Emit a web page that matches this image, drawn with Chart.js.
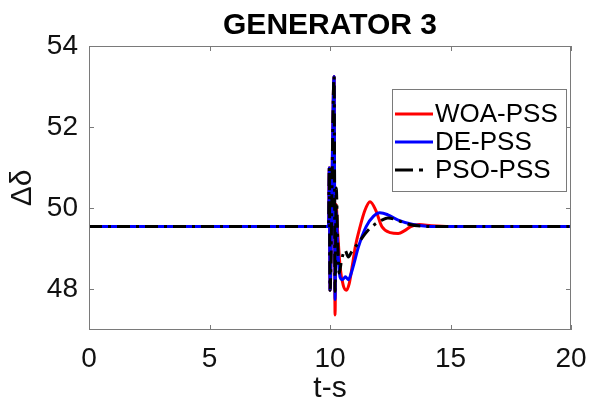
<!DOCTYPE html>
<html>
<head>
<meta charset="utf-8">
<script src="https://cdn.jsdelivr.net/npm/chart.js@4/dist/chart.umd.min.js"></script>
<style>
  html, body { margin: 0; padding: 0; background: #fff; }
  #wrap { width: 589px; height: 402px; }
</style>
</head>
<body>
<div id="wrap"><canvas id="gen3"></canvas></div>
<script>
const xTicks = [0, 5, 10, 15, 20];
const yTicks = [48, 50, 52, 54];

// rotor angle deviation after the fault at t = 10 s
const woaTime  = [0, 9.94, 9.97, 10.0, 10.17, 10.21, 10.25, 10.32, 10.42, 10.55, 10.68, 10.8, 10.93, 11.05, 11.25, 11.45, 11.66, 11.9, 12.15, 12.5, 12.83, 13.1, 13.35, 13.7, 14.2, 15, 20];
const woaDelta = [49.55, 49.55, 51.0, 47.98, 53.25, 47.37, 50.1, 49.4, 48.55, 48.1, 47.98, 48.15, 48.6, 49.05, 49.55, 49.95, 50.16, 49.95, 49.55, 49.4, 49.38, 49.45, 49.55, 49.6, 49.57, 49.55, 49.55];

const deTime  = [0, 9.94, 9.97, 10.0, 10.17, 10.21, 10.25, 10.32, 10.42, 10.52, 10.64, 10.76, 10.88, 11.0, 11.18, 11.5, 11.8, 12.07, 12.4, 12.83, 13.45, 14.0, 15, 20];
const deDelta = [49.55, 49.55, 51.0, 47.98, 53.25, 47.75, 49.95, 49.0, 48.3, 48.24, 48.31, 48.24, 48.4, 48.65, 49.05, 49.55, 49.8, 49.89, 49.84, 49.71, 49.6, 49.56, 49.55, 49.55];

const psoTime  = [0, 9.94, 9.97, 10.0, 10.17, 10.21, 10.26, 10.32, 10.38, 10.48, 10.62, 10.76, 10.9, 11.05, 11.24, 11.58, 11.85, 12.15, 12.4, 12.63, 13.0, 13.3, 13.8, 14.5, 20];
const psoDelta = [49.55, 49.55, 51.0, 47.98, 53.25, 47.95, 50.5, 49.2, 48.4, 48.72, 48.97, 48.8, 48.93, 49.05, 49.2, 49.46, 49.6, 49.71, 49.76, 49.74, 49.66, 49.6, 49.56, 49.55, 49.55];

const toPoints = (ts, vs) => ts.map((t, i) => ({ x: t, y: vs[i] }));

const FONT = '"Liberation Sans", Arial, sans-serif';
const AXIS_GREY = '#7a7a7a';

// box around the plot with inward tick marks on every side
const frameTicks = {
  id: 'frameTicks',
  afterDatasetsDraw(chart) {
    const { ctx, chartArea: a, scales: { x, y } } = chart;
    const len = 5;
    ctx.save();
    ctx.strokeStyle = AXIS_GREY;
    ctx.lineWidth = 1;
    ctx.strokeRect(Math.round(a.left) + 0.5, Math.round(a.top) + 0.5,
                   Math.round(a.right - a.left) - 1, Math.round(a.bottom - a.top) - 1);
    ctx.beginPath();
    xTicks.forEach(v => {
      const px = Math.round(x.getPixelForValue(v)) + 0.5;
      ctx.moveTo(px, a.bottom); ctx.lineTo(px, a.bottom - len);
      ctx.moveTo(px, a.top); ctx.lineTo(px, a.top + len);
    });
    yTicks.forEach(v => {
      const py = Math.round(y.getPixelForValue(v)) + 0.5;
      ctx.moveTo(a.left, py); ctx.lineTo(a.left + len, py);
      ctx.moveTo(a.right, py); ctx.lineTo(a.right - len, py);
    });
    ctx.stroke();
    ctx.restore();
  }
};

// legend box in the upper right of the plot
const boxLegend = {
  id: 'boxLegend',
  afterDraw(chart) {
    const { ctx } = chart;
    const left = 392, top = 89, w = 174, h = 102;
    ctx.save();
    ctx.fillStyle = '#fff';
    ctx.fillRect(left, top, w, h);
    ctx.strokeStyle = AXIS_GREY;
    ctx.lineWidth = 1;
    ctx.strokeRect(left + 0.5, top + 0.5, w, h);
    ctx.font = '26px ' + FONT;
    ctx.textBaseline = 'middle';
    ctx.fillStyle = '#000';
    chart.data.datasets.forEach((ds, i) => {
      const ry = top + 25 + i * 28;
      ctx.strokeStyle = ds.borderColor;
      ctx.lineWidth = ds.borderWidth;
      ctx.setLineDash(ds.borderDash ? [18, 6, 4, 20] : []);
      ctx.beginPath();
      ctx.moveTo(left + 3, ry);
      ctx.lineTo(left + 41, ry);
      ctx.stroke();
      ctx.setLineDash([]);
      ctx.fillText(ds.label, left + 43, ry + 1);
    });
    ctx.restore();
  }
};

new Chart(document.getElementById('gen3'), {
  type: 'line',
  data: {
    datasets: [
      { label: 'WOA-PSS', data: toPoints(woaTime, woaDelta), borderColor: '#ff0000', borderWidth: 3, order: 3 },
      { label: 'DE-PSS', data: toPoints(deTime, deDelta), borderColor: '#0000ff', borderWidth: 3, order: 2 },
      { label: 'PSO-PSS', data: toPoints(psoTime, psoDelta), borderColor: '#000000', borderWidth: 3,
        borderDash: [13, 6, 3, 6], order: 1 }
    ]
  },
  options: {
    responsive: true,
    maintainAspectRatio: false,
    animation: false,
    parsing: false,
    layout: { padding: { left: 0, right: 18, top: 0, bottom: 0 } },
    elements: {
      point: { radius: 0 },
      line: { cubicInterpolationMode: 'monotone', fill: false }
    },
    scales: {
      x: {
        type: 'linear',
        min: 0, max: 20,
        afterBuildTicks: s => { s.ticks = xTicks.map(v => ({ value: v })); },
        afterFit: s => { s.height = 72; s.paddingLeft = 0; s.paddingRight = 0; },
        grid: { display: false, drawTicks: false },
        border: { display: false },
        ticks: { font: { family: FONT, size: 28 }, color: '#111', padding: 12, maxRotation: 0 },
        title: { display: true, text: 't-s', font: { family: FONT, size: 30, lineHeight: 0.9 }, color: '#111', padding: 0 }
      },
      y: {
        min: 47, max: 54,
        afterBuildTicks: s => { s.ticks = yTicks.map(v => ({ value: v })); },
        afterFit: s => { s.width = 89; s.paddingTop = 0; s.paddingBottom = 0; },
        grid: { display: false, drawTicks: false },
        border: { display: false },
        ticks: { font: { family: FONT, size: 28 }, color: '#111', padding: 11 },
        title: { display: true, text: 'Δδ', font: { family: FONT, size: 30, lineHeight: 1.2 }, color: '#111', padding: { top: 5 } }
      }
    },
    plugins: {
      legend: { display: false },
      tooltip: { enabled: false },
      title: {
        display: true,
        fullSize: false,
        text: 'GENERATOR 3',
        color: '#000',
        font: { family: FONT, size: 30, weight: 'bold', lineHeight: 1.2 },
        padding: { top: 8, bottom: 2 }
      }
    }
  },
  plugins: [frameTicks, boxLegend]
});
</script>
</body>
</html>
